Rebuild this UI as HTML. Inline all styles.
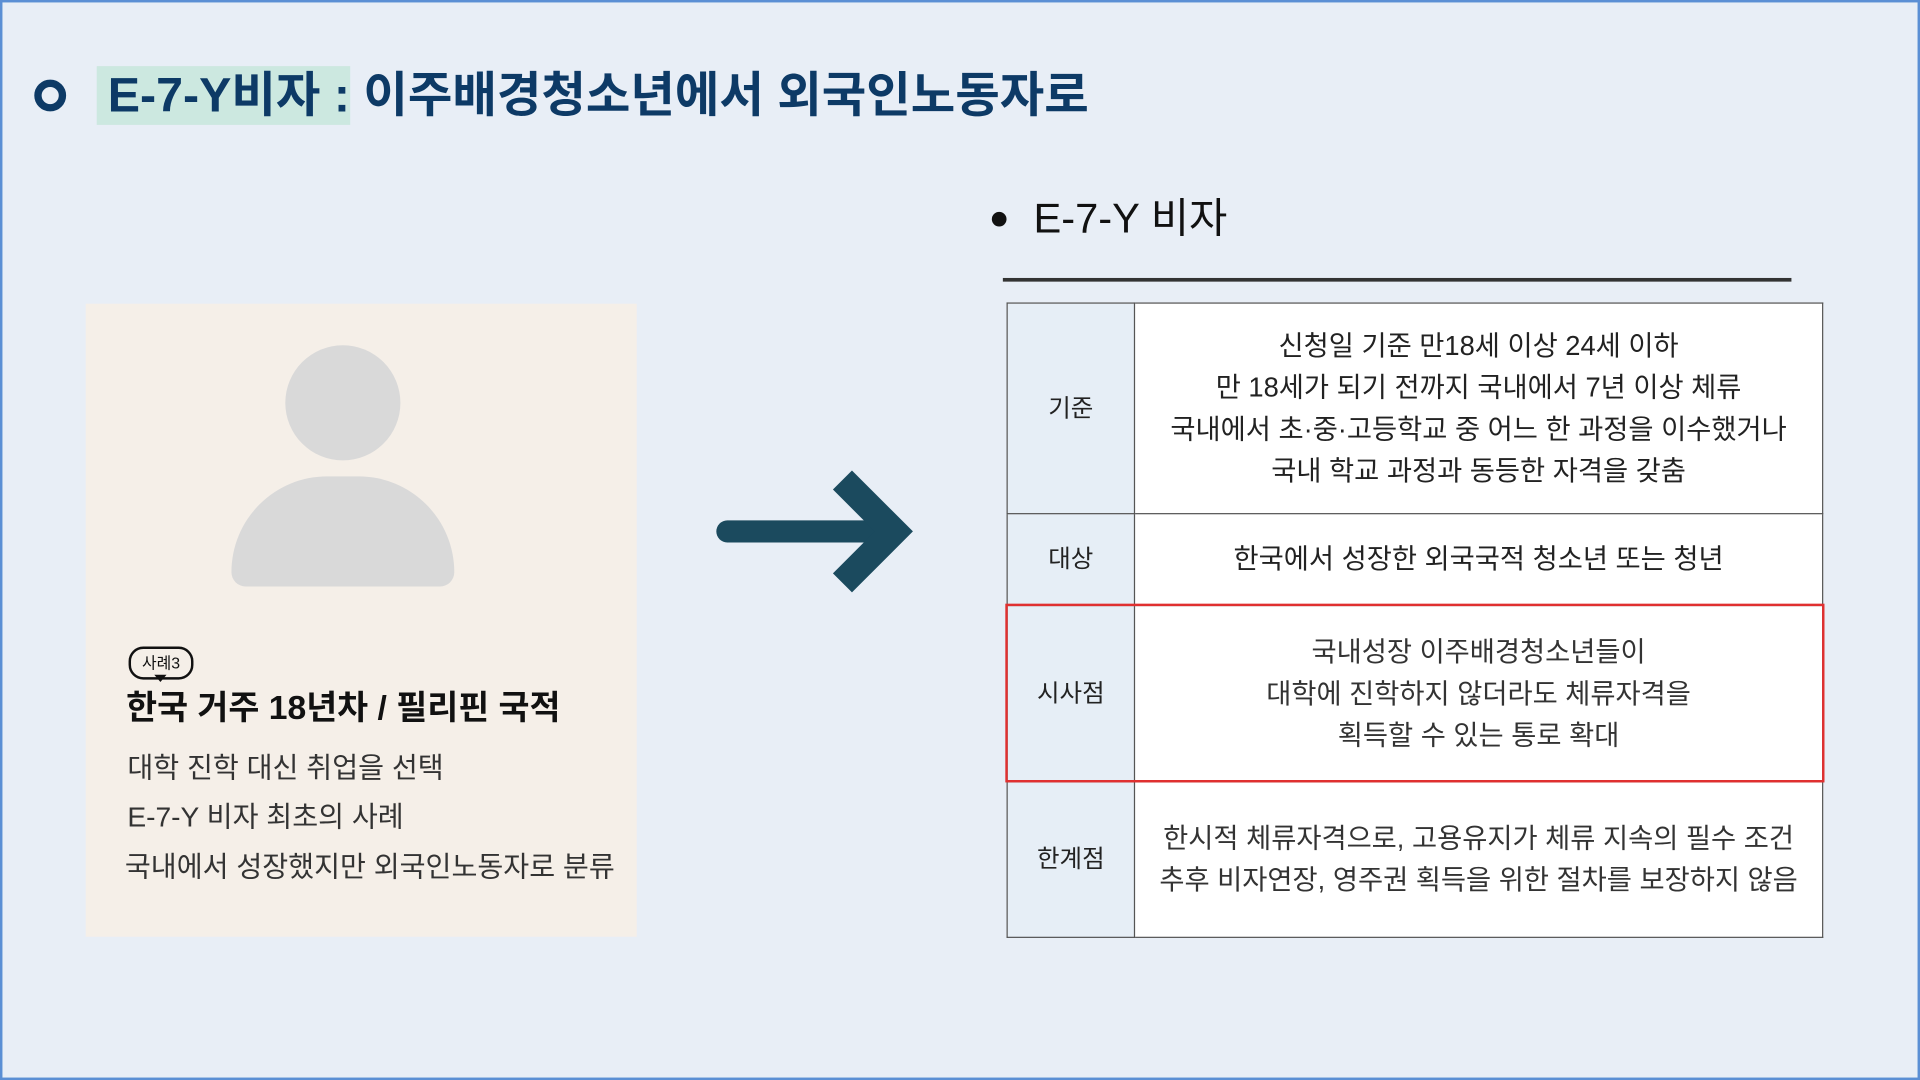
<!DOCTYPE html>
<html><head><meta charset="utf-8"><style>
html,body{margin:0;padding:0;width:1920px;height:1080px;overflow:hidden;background:#e8eef6}
#s{position:absolute;left:0;top:0;width:1568px;height:882px;transform:scale(1.22449);transform-origin:0 0;font-family:"Liberation Sans","Noto Sans CJK KR",sans-serif;background:#e8eef6}
.a{position:absolute;white-space:nowrap}
table{position:absolute;left:822px;top:247px;width:667px;height:518px;border-collapse:collapse;background:#fff}
td{border:1px solid #555;text-align:center;font-size:22.3px;color:#222;line-height:34px;padding:0}
td.h{width:103px;background:#e6eef6;font-size:20px}
</style></head><body><div id="s">
<div class="a" style="left:0;top:0;width:1564px;height:878px;border:2px solid #5b8fd4"></div>
<div class="a" style="left:28px;top:65px;width:14px;height:14px;border:6px solid #0d3a66;border-radius:50%"></div>
<div class="a" style="left:79px;top:54px;width:207px;height:48px;background:#cce8e0"></div>
<div class="a" style="left:88px;top:52px;font-size:39.5px;font-weight:bold;color:#0d3a66;line-height:52px">E-7-Y비자 : 이주배경청소년에서 외국인노동자로</div>
<div class="a" style="left:810px;top:173px;width:12px;height:12px;border-radius:50%;background:#111"></div>
<div class="a" style="left:844px;top:156px;font-size:34px;color:#111;line-height:46px">E-7-Y 비자</div>
<div class="a" style="left:819px;top:227px;width:644px;height:3px;background:#333"></div>
<table>
<tr style="height:172px"><td class="h">기준</td><td>신청일 기준 만18세 이상 24세 이하<br>만 18세가 되기 전까지 국내에서 7년 이상 체류<br>국내에서 초·중·고등학교 중 어느 한 과정을 이수했거나<br>국내 학교 과정과 동등한 자격을 갖춤</td></tr>
<tr style="height:75px"><td class="h">대상</td><td>한국에서 성장한 외국국적 청소년 또는 청년</td></tr>
<tr style="height:144px"><td class="h">시사점</td><td style="color:#333">국내성장 이주배경청소년들이<br>대학에 진학하지 않더라도 체류자격을<br>획득할 수 있는 통로 확대</td></tr>
<tr style="height:127px"><td class="h">한계점</td><td style="color:#333">한시적 체류자격으로, 고용유지가 체류 지속의 필수 조건<br>추후 비자연장, 영주권 획득을 위한 절차를 보장하지 않음</td></tr>
</table>
<div class="a" style="left:821px;top:493px;width:665px;height:142px;border:2px solid #e03030"></div>
<div class="a" style="left:70px;top:248px;width:450px;height:517px;background:#f5efe8"></div>
<div class="a" style="left:233px;top:282px;width:94px;height:94px;border-radius:50%;background:#d9d9d9"></div>
<div class="a" style="left:189px;top:389px;width:182px;height:90px;border-radius:80px 80px 12px 12px;background:#d9d9d9"></div>
<div class="a" style="left:105px;top:528px;width:49px;height:23px;border:2px solid #111;border-radius:12px;font-size:13px;line-height:23px;text-align:center;color:#111">사례3</div>
<div class="a" style="left:126px;top:551px;width:0;height:0;border-left:5px solid transparent;border-right:5px solid transparent;border-top:6px solid #111"></div>
<div class="a" style="left:103px;top:561px;font-size:27.5px;font-weight:bold;color:#111;line-height:34px">한국 거주 18년차 / 필리핀 국적</div>
<div class="a" style="left:104px;top:612px;font-size:23px;color:#333;line-height:30px">대학 진학 대신 취업을 선택</div>
<div class="a" style="left:104px;top:652px;font-size:23px;color:#333;line-height:30px">E-7-Y 비자 최초의 사례</div>
<div class="a" style="left:102px;top:693px;font-size:23px;color:#333;line-height:30px">국내에서 성장했지만 외국인노동자로 분류</div>
<svg class="a" style="left:580px;top:380px" width="180" height="110"><g stroke="#1b4a5e" fill="none"><line x1="14" y1="54" x2="150" y2="54" stroke-width="18" stroke-linecap="round"/><polyline points="108,12 150,54 108,96" stroke-width="22"/></g></svg>
</div></body></html>
